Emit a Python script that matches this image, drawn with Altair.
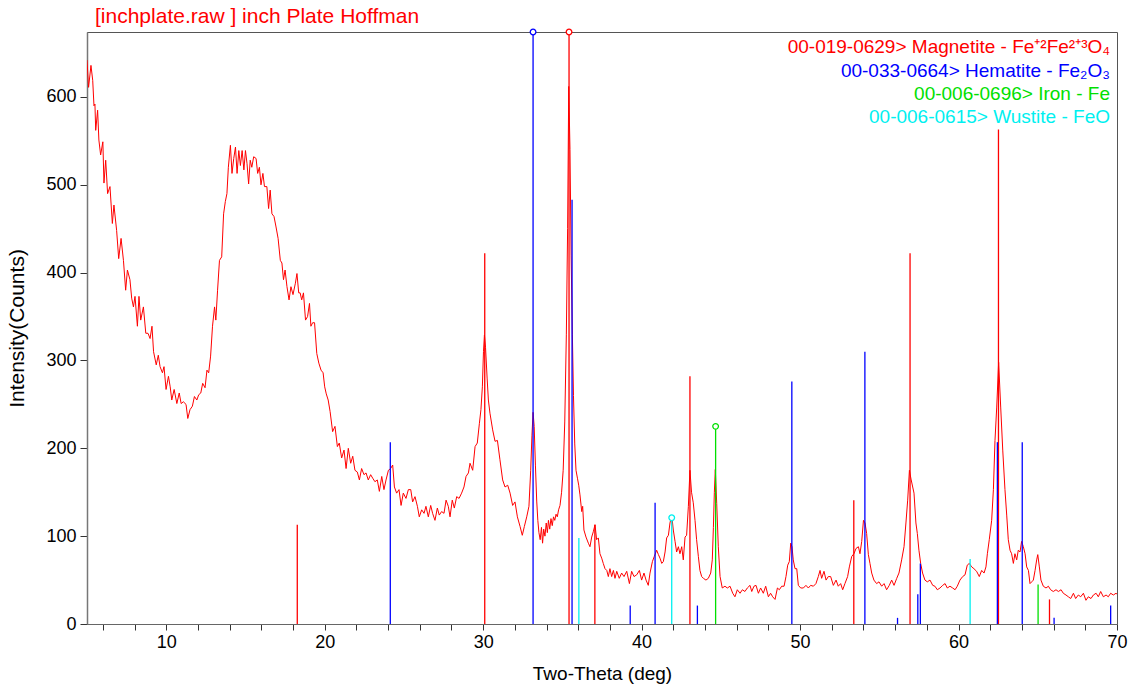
import altair as alt
import pandas as pd

# ---------------- measured pattern (2-theta, counts) ----------------
two_theta = [
    5.0, 5.1, 5.25, 5.36, 5.44, 5.5, 5.55, 5.67, 5.75, 5.86, 6.0, 6.07, 6.18, 6.3, 6.45, 6.6, 6.7, 6.87,
    7.0, 7.15, 7.3, 7.44, 7.55, 7.71, 7.82, 7.93, 8.03, 8.18, 8.28, 8.39, 8.56, 8.71, 8.85, 8.98, 9.1, 9.2,
    9.37, 9.5, 9.61, 9.76, 9.86, 9.99, 10.14, 10.25, 10.35, 10.5, 10.67, 10.82, 10.94, 11.08, 11.25, 11.36,
    11.5, 11.65, 11.78, 11.93, 12.05, 12.18, 12.3, 12.45, 12.57, 12.68, 12.8, 12.92, 13.05, 13.13, 13.24,
    13.36, 13.5, 13.62, 13.73, 13.83, 13.92, 14.05, 14.15, 14.26, 14.37, 14.47, 14.58, 14.68, 14.79, 14.9,
    15.0, 15.1, 15.2, 15.3, 15.4, 15.52, 15.67, 15.77, 15.88, 15.98, 16.1, 16.2, 16.35, 16.46, 16.56, 16.67,
    16.8, 16.93, 17.06, 17.2, 17.3, 17.4, 17.5, 17.62, 17.75, 17.87, 18.0, 18.15, 18.25, 18.36, 18.45, 18.55,
    18.66, 18.79, 18.92, 19.04, 19.13, 19.24, 19.36, 19.5, 19.63, 19.77, 19.9, 20.0, 20.1, 20.22,
    20.34, 20.5, 20.65, 20.8, 20.92, 21.07, 21.22, 21.35, 21.49, 21.64, 21.77, 21.91, 22.06, 22.19, 22.33,
    22.48, 22.61, 22.75, 22.9, 23.03, 23.17, 23.32, 23.45, 23.6, 23.74, 23.87, 24.02, 24.16, 24.29, 24.4,
    24.54, 24.69, 24.82, 24.96, 25.13, 25.28, 25.43, 25.55, 25.7, 25.85, 25.97, 26.12, 26.27, 26.39, 26.54,
    26.69, 26.81, 26.96, 27.11, 27.23, 27.38, 27.53, 27.66, 27.8, 27.91, 28.05, 28.18, 28.33, 28.48, 28.64,
    28.79, 28.92, 29.07, 29.17, 29.34, 29.49, 29.63, 29.76, 29.86, 29.95, 30.02, 30.08, 30.15, 30.25, 30.33,
    30.43, 30.6, 30.75, 30.9, 31.06, 31.23, 31.38, 31.55, 31.7, 31.86, 32.01, 32.16, 32.33, 32.47, 32.6,
    32.75, 32.89, 33.0, 33.08, 33.15, 33.22, 33.3, 33.38, 33.45, 33.52, 33.6, 33.68, 33.75, 33.82, 33.9,
    33.98, 34.05, 34.12, 34.2, 34.28, 34.36, 34.44, 34.52, 34.6, 34.68, 34.76, 34.85, 34.95, 35.05, 35.15,
    35.25, 35.33, 35.4, 35.48, 35.55, 35.63, 35.7, 35.78, 35.86, 35.95, 36.03, 36.11, 36.22, 36.28, 36.36,
    36.49, 36.64, 36.74, 36.85, 36.95, 37.06, 37.16, 37.27, 37.37, 37.48, 37.58, 37.69, 37.8, 37.9, 38.0,
    38.11, 38.22, 38.32, 38.43, 38.59, 38.74, 38.89, 39.06, 39.23, 39.37, 39.52, 39.69, 39.86, 40.0, 40.15,
    40.28, 40.42, 40.53, 40.68, 40.8, 40.95, 41.06, 41.16, 41.27, 41.37, 41.48, 41.58, 41.69, 41.79, 41.9,
    42.0, 42.11, 42.21, 42.32, 42.42, 42.53, 42.63, 42.74, 42.84, 42.95, 43.05, 43.15, 43.26, 43.37, 43.47,
    43.58, 43.68, 43.79, 43.9, 44.06, 44.21, 44.36, 44.46, 44.53, 44.59, 44.65, 44.74, 44.84, 44.95, 45.09,
    45.26, 45.41, 45.58, 45.75, 45.89, 46.04, 46.21, 46.36, 46.52, 46.67, 46.84, 46.95, 47.09, 47.22, 47.37,
    47.51, 47.68, 47.83, 48.0, 48.14, 48.27, 48.42, 48.57, 48.69, 48.84, 48.99, 49.11, 49.22, 49.32, 49.41,
    49.49, 49.57, 49.68, 49.79, 49.89, 50.04, 50.21, 50.37, 50.52, 50.67, 50.84, 51.0, 51.15, 51.26, 51.36,
    51.51, 51.64, 51.78, 51.93, 52.1, 52.27, 52.41, 52.56, 52.69, 52.83, 53.0, 53.11, 53.26, 53.4, 53.53,
    53.68, 53.78, 53.89, 54.0, 54.1, 54.2, 54.31, 54.41, 54.52, 54.66, 54.83, 54.98, 55.15, 55.3, 55.46,
    55.63, 55.78, 55.93, 56.1, 56.24, 56.41, 56.56, 56.68, 56.79, 56.9, 57.0, 57.19, 57.31, 57.4, 57.5,
    57.61, 57.73, 57.88, 58.03, 58.2, 58.37, 58.51, 58.66, 58.83, 59.0, 59.15, 59.29, 59.46, 59.63, 59.78,
    59.92, 60.09, 60.26, 60.41, 60.55, 60.68, 60.83, 60.97, 61.14, 61.31, 61.46, 61.61, 61.73, 61.82, 61.94,
    62.09, 62.2, 62.3, 62.41, 62.53, 62.66, 62.79, 62.93, 63.04, 63.14, 63.25, 63.35, 63.46, 63.56, 63.67,
    63.77, 63.88, 63.98, 64.09, 64.2, 64.3, 64.41, 64.51, 64.62, 64.72, 64.83, 64.93, 65.0, 65.1, 65.2,
    65.35, 65.52, 65.67, 65.81, 65.98, 66.15, 66.3, 66.47, 66.61, 66.78, 66.93, 67.08, 67.25, 67.39, 67.56,
    67.71, 67.88, 68.04, 68.19, 68.36, 68.51, 68.68, 68.82, 68.97, 69.14, 69.31, 69.45, 69.6, 69.77, 69.94,
    70.0,
]
counts = [
    642, 611, 636, 619, 590, 592, 562, 585, 551, 534, 549, 502, 528, 490, 498, 456, 477, 448,
    416, 439, 414, 380, 403, 392, 371, 361, 373, 339, 373, 346, 361, 331, 331, 325, 339, 310,
    295, 306, 293, 286, 293, 267, 282, 270, 255, 267, 251, 263, 251, 253, 250, 234,
    244, 248, 259, 255, 261, 263, 274, 269, 289, 286, 305, 339, 361, 346, 380,
    414, 418, 467, 481, 490, 520, 545, 513, 530, 543, 513, 539, 522, 539, 517,
    539, 524, 501, 528, 520, 532, 530, 513, 520, 500, 513, 498, 498, 473, 494, 467,
    464, 452, 439, 414, 411, 392, 403, 384, 369, 384, 375, 388, 399, 377, 377, 369,
    377, 346, 350, 365, 339, 343, 343, 308, 297, 289, 286, 270, 262, 255,
    242, 219, 225, 202, 206, 189, 198, 177, 200, 183, 191, 175, 173, 164, 177,
    170, 172, 164, 170, 166, 162, 164, 151, 168, 153, 164, 175, 177, 181, 156,
    149, 153, 135, 149, 143, 153, 153, 139, 145, 134, 122, 130, 126, 134, 122,
    135, 126, 118, 132, 124, 128, 126, 141, 134, 122, 141, 132, 145, 143, 149,
    156, 168, 172, 183, 175, 202, 206, 228, 244, 270, 310, 329, 315, 280, 255,
    240, 221, 208, 209, 187, 164, 156, 158, 149, 135, 139, 122, 111, 101, 111,
    122, 134, 175, 215, 241, 225, 180, 140, 118, 104, 96, 110, 92, 108, 100,
    115, 104, 118, 108, 120, 112, 122, 118, 125, 122, 130, 135, 150, 175, 230,
    330, 450, 612, 540, 420, 330, 260, 205, 175, 166, 158, 147, 128, 134, 107,
    99, 92, 88, 99, 105, 113, 96, 98, 80, 75, 69, 63, 61, 54, 63,
    54, 61, 52, 60, 52, 58, 54, 60, 46, 60, 54, 56, 61, 50, 58,
    50, 44, 58, 71, 77, 84, 79, 75, 69, 71, 82, 98, 101, 115, 124,
    107, 94, 82, 88, 80, 88, 73, 99, 101, 134, 175, 150, 138, 118, 96,
    77, 61, 54, 52, 50, 52, 58, 73, 110, 150, 176, 137, 88, 54, 41,
    43, 41, 43, 35, 31, 39, 35, 39, 37, 41, 44, 37, 43, 44, 35,
    41, 35, 43, 31, 35, 31, 28, 41, 39, 43, 43, 54, 67, 71, 92,
    88, 73, 63, 63, 44, 41, 41, 44, 41, 44, 43, 46, 54, 61, 52,
    60, 50, 54, 54, 44, 50, 43, 46, 39, 46, 54, 65, 77, 80, 86,
    88, 80, 94, 118, 115, 103, 79, 69, 58, 50, 46, 48, 43, 46, 39,
    44, 50, 44, 52, 58, 73, 88, 115, 141, 175, 165, 149, 115, 103, 84,
    69, 58, 50, 48, 50, 44, 43, 39, 41, 44, 46, 41, 43, 41, 39,
    43, 50, 54, 56, 67, 69, 65, 63, 60, 54, 61, 58, 65, 80, 96,
    118, 153, 209, 247, 298, 247, 198, 153, 124, 96, 84, 80, 69, 80, 73,
    84, 82, 94, 88, 80, 65, 61, 46, 48, 50, 61, 73, 79, 65, 50,
    43, 41, 43, 39, 37, 39, 37, 39, 35, 33, 31, 29, 35, 29, 33,
    31, 35, 27, 31, 29, 33, 35, 31, 37, 31, 33, 31, 35, 33, 35,
    34,
]

# ---------------- reference stick patterns ----------------
phases = ["Magnetite", "Hematite", "Iron", "Wustite"]
phase_colors = ["#ff0000", "#0000ff", "#00e000", "#00f0f0"]

magnetite_pos = [18.27, 30.10, 35.42, 37.05, 43.05, 53.39, 56.94, 62.52, 65.74]
magnetite_h = [113, 422, 1407, 113, 282, 141, 422, 563, 28]
hematite_pos = [24.14, 33.15, 35.61, 39.28, 40.85, 43.52, 49.48, 54.09, 56.15, 57.43, 57.59,
                62.45, 64.02, 66.03, 69.60]
hematite_h = [207, 690, 483, 21, 138, 21, 276, 310, 7, 34, 69, 207, 207, 7, 21]
iron_pos = [44.67, 65.02]
iron_h = [225, 45]
wustite_pos = [36.04, 41.90, 60.73]
wustite_h = [98, 121, 74]

legend_labels = [
    "00-019-0629> Magnetite - Fe\u207a\u00b2Fe\u00b2\u207a\u00b3O\u2084",
    "00-033-0664> Hematite - Fe\u2082O\u2083",
    "00-006-0696> Iron - Fe",
    "00-006-0615> Wustite - FeO",
]
title_text = "[inchplate.raw ] inch Plate Hoffman"
x_minor_ticks = list(range(6, 71, 2))
y_ticks = list(range(0, 601, 100))

Y_MAX = 674
FONT = "Liberation Sans"

curve = pd.DataFrame({"two_theta": two_theta, "counts": counts})

rows = []
for ph, pos, hh in [("Magnetite", magnetite_pos, magnetite_h), ("Hematite", hematite_pos, hematite_h),
                    ("Iron", iron_pos, iron_h), ("Wustite", wustite_pos, wustite_h)]:
    for p, h in zip(pos, hh):
        rows.append({"pos": p, "h": h, "phase": ph, "zero": 0})
sticks = pd.DataFrame(rows)

# strongest line of each phase gets a marker (clipped at the top of the plot)
circ = sticks.loc[sticks.groupby("phase")["h"].idxmax()].copy()
circ["top"] = circ["h"].clip(upper=Y_MAX)

xscale = alt.Scale(domain=[5, 70], nice=False, zero=False)
yscale = alt.Scale(domain=[0, Y_MAX], nice=False)
cscale = alt.Scale(domain=phases, range=phase_colors)


def x_axis():
    return alt.Axis(
        title="Two-Theta (deg)", values=x_minor_ticks,
        labelExpr="datum.value % 10 == 0 ? datum.label : ''",
        labelFlush=False, labelOverlap=False, grid=False, tickSize=6, tickColor="#333",
        domainColor="#666", labelFontSize=18, titleFontSize=19, labelPadding=3, titlePadding=13,
        labelColor="black", titleColor="black", titleFontWeight="normal", labelFont=FONT,
        titleFont=FONT,
    )


def y_axis():
    return alt.Axis(
        title="Intensity(Counts)", values=y_ticks, grid=False, tickSize=7,
        tickColor="#333", domainColor="#777", domainWidth=1.5, labelFontSize=18, titleFontSize=21,
        labelPadding=4, titlePadding=18, labelColor="black", titleColor="black",
        titleFontWeight="normal", labelFont=FONT, titleFont=FONT, labelOverlap=False,
    )


line = alt.Chart(curve).mark_line(color="#ff0000", strokeWidth=1, clip=True).encode(
    x=alt.X("two_theta:Q", scale=xscale, axis=x_axis()),
    y=alt.Y("counts:Q", scale=yscale, axis=y_axis()),
)

rules = alt.Chart(sticks).mark_rule(strokeWidth=1.3, clip=True).encode(
    x=alt.X("pos:Q", scale=xscale, axis=x_axis()),
    y=alt.Y("zero:Q", scale=yscale, axis=y_axis()),
    y2="h:Q",
    color=alt.Color("phase:N", scale=cscale, legend=None),
)

markers = alt.Chart(circ).mark_point(shape="circle", size=32, strokeWidth=1.3, fill="white",
                                     fillOpacity=1, opacity=1).encode(
    x=alt.X("pos:Q", scale=xscale, axis=x_axis()),
    y=alt.Y("top:Q", scale=yscale, axis=y_axis()),
    stroke=alt.Stroke("phase:N", scale=cscale, legend=None),
)

layers = [line, rules, markers]

legend_y = [15, 39, 62, 85]
for lab, col, yy in zip(legend_labels, phase_colors, legend_y):
    layers.append(
        alt.Chart(pd.DataFrame({"label": [lab]})).mark_text(
            align="right", baseline="middle", fontSize=19, font=FONT, color=col
        ).encode(x=alt.value(1023), y=alt.value(yy), text="label:N")
    )

layers.append(
    alt.Chart(pd.DataFrame({"label": [title_text]})).mark_text(
        align="left", baseline="middle", fontSize=21, font=FONT, color="#ff0000"
    ).encode(x=alt.value(8), y=alt.value(-15), text="label:N")
)

chart = alt.layer(*layers).properties(
    width=1030, height=592,
    autosize=alt.AutoSizeParams(type="none"),
    padding={"left": 87, "top": 32, "right": 17, "bottom": 64},
    background="white",
).configure_view(stroke="#555", strokeWidth=1).configure_axisX(labelOverlap=False)

chart.save("out.html", embed_options={"renderer": "svg", "actions": False})
